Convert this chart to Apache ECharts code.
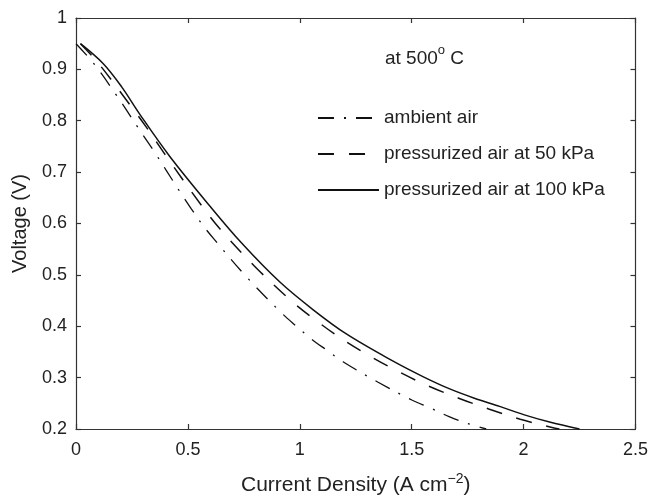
<!DOCTYPE html>
<html>
<head>
<meta charset="utf-8">
<script src="https://cdn.jsdelivr.net/npm/echarts@6/dist/echarts.min.js"></script>
<style>html,body{margin:0;padding:0;background:#fff;}#c{width:651px;height:503px;}</style>
</head>
<body>
<div id="c"></div>
<script>
const seriesNames = ['ambient air', 'pressurized air at 50 kPa', 'pressurized air at 100 kPa'];
const xTicks = [0, 0.5, 1, 1.5, 2, 2.5];
const yTicks = [0.2, 0.3, 0.4, 0.5, 0.6, 0.7, 0.8, 0.9, 1];

const ambientX = [0, 0.08, 0.182, 0.278, 0.345, 0.464, 0.516, 0.566, 0.616, 0.76, 0.918, 0.985, 1.052, 1.122, 1.193, 1.35, 1.503, 1.583, 1.667, 1.747, 1.833];
const ambientY = [0.95, 0.911, 0.849, 0.786, 0.743, 0.662, 0.628, 0.597, 0.570, 0.497, 0.426, 0.400, 0.375, 0.353, 0.331, 0.291, 0.256, 0.241, 0.224, 0.211, 0.200];

const p50X = [0.02, 0.1, 0.241, 0.315, 0.405, 0.561, 0.65, 0.8, 0.958, 1.07, 1.189, 1.313, 1.44, 1.573, 1.71, 1.844, 1.985, 2.127, 2.16];
const p50Y = [0.95, 0.912, 0.831, 0.787, 0.730, 0.635, 0.586, 0.516, 0.451, 0.412, 0.375, 0.342, 0.312, 0.284, 0.260, 0.239, 0.219, 0.203, 0.200];

const p100X = [0.02, 0.122, 0.204, 0.286, 0.42, 0.6, 0.74, 0.911, 1.06, 1.208, 1.417, 1.55, 1.67, 1.78, 1.893, 2.0, 2.116, 2.25];
const p100Y = [0.95, 0.911, 0.866, 0.812, 0.730, 0.633, 0.562, 0.486, 0.432, 0.385, 0.332, 0.302, 0.278, 0.260, 0.244, 0.228, 0.2135, 0.200];

function pairs(xs, ys) { return xs.map((x, i) => [x, ys[i]]); }

const axisColor = '#333';
const textColor = '#222';
const fontFam = 'Liberation Sans, Arial, sans-serif';

const chart = echarts.init(document.getElementById('c'), null, {renderer: 'canvas'});

function xAxisDef(pos, showLabel) {
  return {
    type: 'value', position: pos, min: xTicks[0], max: xTicks[xTicks.length - 1], interval: 0.5,
    axisLine: {show: true, onZero: false, lineStyle: {color: axisColor, width: 1.2}},
    axisTick: {show: true, inside: true, length: 5, lineStyle: {color: axisColor, width: 1.2}},
    axisLabel: {show: showLabel, color: textColor, fontSize: 18, fontFamily: fontFam, margin: 12},
    splitLine: {show: false},
    name: showLabel ? '{n|Current Density (A cm}{s|−2}{n|)}' : '',
    nameLocation: 'middle', nameGap: 43,
    nameTextStyle: {
      rich: {
        n: {fontSize: 21, fontFamily: fontFam, color: textColor, verticalAlign: 'bottom', lineHeight: 24},
        s: {fontSize: 14, fontFamily: fontFam, color: textColor, verticalAlign: 'top', padding: [0, 0, 12, 0], lineHeight: 24}
      }
    }
  };
}
function yAxisDef(pos, showLabel) {
  return {
    type: 'value', position: pos, min: yTicks[0], max: yTicks[yTicks.length - 1], interval: 0.1,
    axisLine: {show: true, onZero: false, lineStyle: {color: axisColor, width: 1.2}},
    axisTick: {show: true, inside: true, length: 5, lineStyle: {color: axisColor, width: 1.2}},
    axisLabel: {show: showLabel, color: textColor, fontSize: 18, fontFamily: fontFam, margin: 9,
      formatter: v => String(Math.round(v * 10) / 10)},
    splitLine: {show: false},
    name: showLabel ? 'Voltage (V)' : '',
    nameLocation: 'middle', nameGap: 46,
    nameTextStyle: {fontSize: 20, fontFamily: fontFam, color: textColor}
  };
}

chart.setOption({
  backgroundColor: '#fff',
  animation: false,
  grid: {left: 76, right: 15, top: 18, bottom: 64, containLabel: false},
  xAxis: [xAxisDef('bottom', true), xAxisDef('top', false)],
  yAxis: [yAxisDef('left', true), yAxisDef('right', false)],
  legend: {
    orient: 'vertical', left: 312, top: 102, itemWidth: 61, itemHeight: 14, itemGap: 14,
    itemStyle: {color: 'transparent', borderWidth: 0, opacity: 0},
    textStyle: {fontSize: 19, fontFamily: fontFam, color: textColor, lineHeight: 22},
    data: seriesNames
  },
  graphic: [{
    type: 'text', left: 385, top: 44,
    style: {
      text: '{n|at 500}{s|o}{n| C}',
      rich: {
        n: {fontSize: 19, fontFamily: fontFam, fill: textColor, verticalAlign: 'bottom', lineHeight: 24},
        s: {fontSize: 13, fontFamily: fontFam, fill: textColor, verticalAlign: 'top', padding: [0, 0, 12, 0], lineHeight: 24}
      }
    }
  }],
  series: [
    {name: seriesNames[0], type: 'line', smooth: 0.35, showSymbol: false, symbol: 'none',
     data: pairs(ambientX, ambientY),
     lineStyle: {color: '#111', width: 1.3, type: [16, 10, 2, 10]}, itemStyle: {color: '#111'}},
    {name: seriesNames[1], type: 'line', smooth: 0.35, showSymbol: false, symbol: 'none',
     data: pairs(p50X, p50Y),
     lineStyle: {color: '#111', width: 1.5, type: [16, 15]}, itemStyle: {color: '#111'}},
    {name: seriesNames[2], type: 'line', smooth: 0.35, showSymbol: false, symbol: 'none',
     data: pairs(p100X, p100Y),
     lineStyle: {color: '#111', width: 1.5, type: 'solid'}, itemStyle: {color: '#111'}}
  ]
});
</script>
</body>
</html>
